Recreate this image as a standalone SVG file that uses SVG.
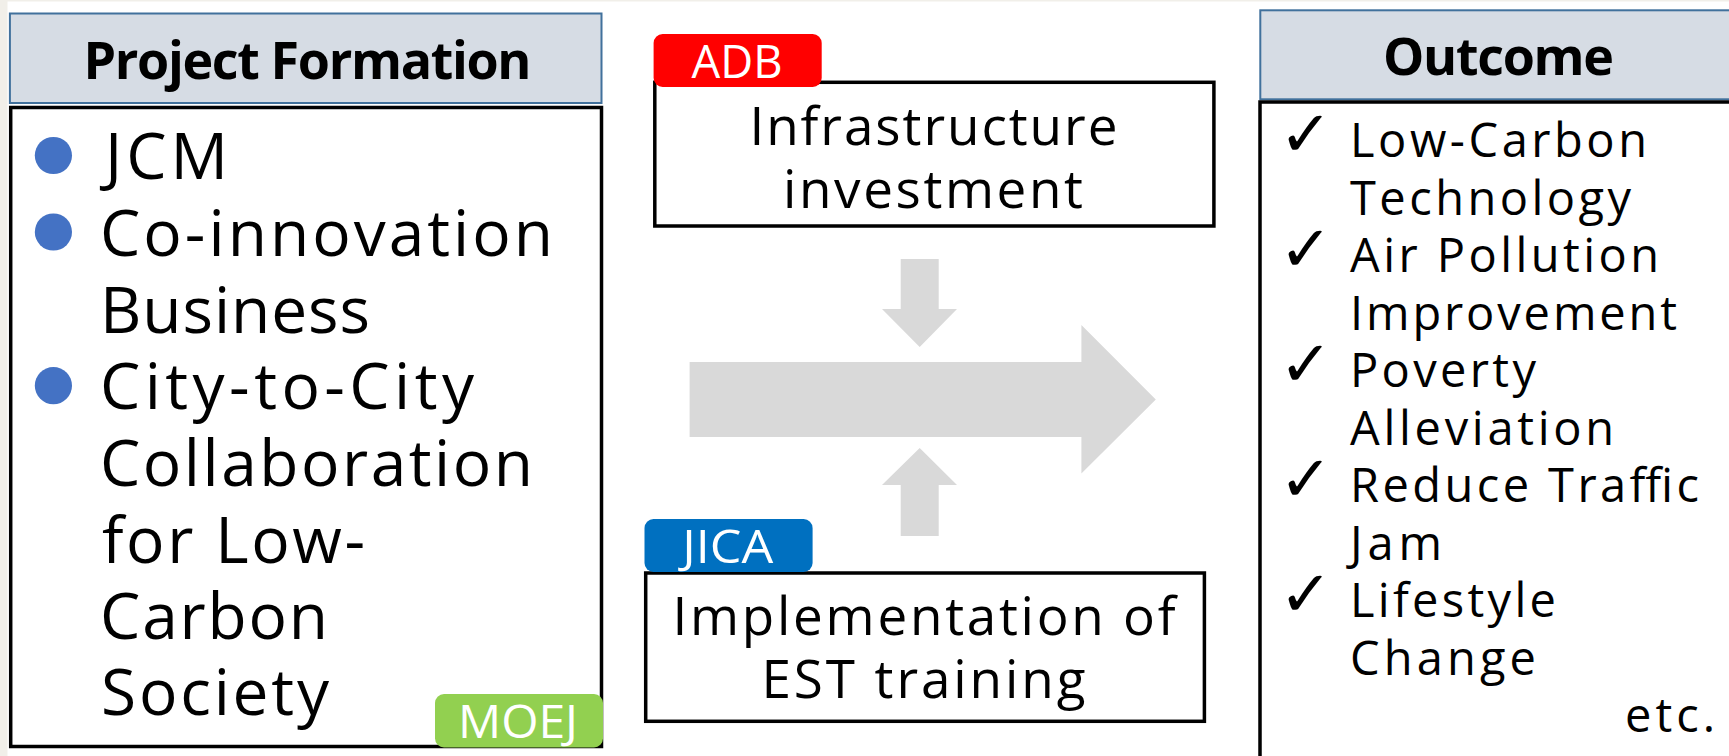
<svg xmlns="http://www.w3.org/2000/svg" width="1729" height="756" viewBox="0 0 1729 756">
<defs>
<style>
.hdr{fill:#d6dce4;stroke:#41719c;stroke-width:2}
.box{fill:#fff;stroke:#000;stroke-width:3.5}
.ht{font-family:"Open Sans","Noto Sans",sans-serif;font-weight:bold;font-size:52px;fill:#000}
.lt{font-family:"Open Sans","Noto Sans",sans-serif;font-size:64px;fill:#000}
.mt{font-family:"Open Sans","Noto Sans",sans-serif;font-size:53px;fill:#000}
.rt{font-family:"Open Sans","Noto Sans",sans-serif;font-size:47px;fill:#000}
.tag{font-family:"Open Sans","Noto Sans",sans-serif;font-size:46px;fill:#fff}
.ck{font-family:"DejaVu Sans",sans-serif;font-size:64px;fill:#000}
.bul{fill:#4472c4}
.arr{fill:#d9d9d9}
</style>
</defs>
<rect x="0" y="0" width="1729" height="756" fill="#f1efe9"/>
<rect x="7.5" y="1.5" width="1721.5" height="754.5" fill="#fff"/>

<g id="connectors">
<polygon class="arr" points="900.7,259 938.7,259 938.7,309 957,309 919.7,347 882,309 900.7,309"/>
<polygon class="arr" points="689.6,362 1081.4,362 1081.4,325 1155.8,399.5 1081.4,473.5 1081.4,437 689.6,437"/>
<polygon class="arr" points="919.7,448 957,485 938.7,485 938.7,536 900.7,536 900.7,485 882,485"/>
</g>

<g id="project-formation">
<rect class="hdr" x="9.9" y="13.5" width="591.6" height="89.5"/>
<text class="ht" x="307.5" y="79" text-anchor="middle" textLength="448" lengthAdjust="spacing">Project Formation</text>
<rect class="box" x="10.7" y="107.5" width="590.8" height="639"/>
<circle class="bul" cx="53.4" cy="155.5" r="18.6"/>
<circle class="bul" cx="53.4" cy="232" r="18.6"/>
<circle class="bul" cx="53.4" cy="385.7" r="18.6"/>
<text class="lt" x="105" y="179" textLength="123" lengthAdjust="spacing">JCM</text>
<text class="lt" x="100" y="256" textLength="453" lengthAdjust="spacing">Co-innovation</text>
<text class="lt" x="100" y="333" textLength="270" lengthAdjust="spacing">Business</text>
<text class="lt" x="100" y="409" textLength="374" lengthAdjust="spacing">City-to-City</text>
<text class="lt" x="100" y="486" textLength="433" lengthAdjust="spacing">Collaboration</text>
<text class="lt" x="102" y="563" textLength="263" lengthAdjust="spacing">for Low-</text>
<text class="lt" x="100" y="639" textLength="228" lengthAdjust="spacing">Carbon</text>
<text class="lt" x="101" y="715" textLength="228" lengthAdjust="spacing">Society</text>
</g>

<g id="moej">
<rect x="435" y="694" width="168" height="53.5" rx="9" fill="#92d050"/>
<text class="tag" x="518" y="738" text-anchor="middle" textLength="120" lengthAdjust="spacingAndGlyphs">MOEJ</text>
</g>

<g id="infrastructure">
<rect class="box" x="654.8" y="82.3" width="559.1" height="143.7"/>
<text class="mt" x="933.4" y="145" text-anchor="middle" textLength="368" lengthAdjust="spacing">Infrastructure</text>
<text class="mt" x="933" y="208" text-anchor="middle" textLength="300" lengthAdjust="spacing">investment</text>
</g>

<g id="adb">
<rect x="653.6" y="34" width="168.1" height="53" rx="9" fill="#ff0000"/>
<text class="tag" x="737" y="78" text-anchor="middle" textLength="91" lengthAdjust="spacingAndGlyphs">ADB</text>
</g>

<g id="implementation">
<rect class="box" x="645.7" y="573" width="558.7" height="148.3"/>
<text class="mt" x="924" y="635" text-anchor="middle" textLength="503" lengthAdjust="spacing">Implementation of</text>
<text class="mt" x="923.5" y="698" text-anchor="middle" textLength="324" lengthAdjust="spacing">EST training</text>
</g>

<g id="jica">
<rect x="644.5" y="519" width="168.1" height="53" rx="9" fill="#0070c0"/>
<text class="tag" x="727.7" y="563" text-anchor="middle" textLength="91" lengthAdjust="spacingAndGlyphs">JICA</text>
</g>

<g id="outcome">
<rect class="hdr" x="1260.3" y="10.3" width="480" height="89"/>
<text class="ht" x="1498.5" y="75" text-anchor="middle" textLength="231" lengthAdjust="spacing">Outcome</text>
<rect class="box" x="1260" y="102" width="500" height="700"/>
<text class="ck" x="1279" y="156">✓</text>
<text class="ck" x="1279" y="271">✓</text>
<text class="ck" x="1279" y="386">✓</text>
<text class="ck" x="1279" y="501">✓</text>
<text class="ck" x="1279" y="616">✓</text>
<text class="rt" x="1350" y="157" textLength="297" lengthAdjust="spacing">Low-Carbon</text>
<text class="rt" x="1350" y="214.5" textLength="281" lengthAdjust="spacing">Technology</text>
<text class="rt" x="1350" y="272" textLength="309" lengthAdjust="spacing">Air Pollution</text>
<text class="rt" x="1350" y="329.5" textLength="327" lengthAdjust="spacing">Improvement</text>
<text class="rt" x="1350" y="387" textLength="186" lengthAdjust="spacing">Poverty</text>
<text class="rt" x="1350" y="444.5" textLength="264" lengthAdjust="spacing">Alleviation</text>
<text class="rt" x="1350" y="502" textLength="349" lengthAdjust="spacing">Reduce Traffic</text>
<text class="rt" x="1350" y="559.5" textLength="92" lengthAdjust="spacing">Jam</text>
<text class="rt" x="1350" y="617" textLength="206" lengthAdjust="spacing">Lifestyle</text>
<text class="rt" x="1350" y="674.5" textLength="186" lengthAdjust="spacing">Change</text>
<text class="rt" x="1625" y="732" textLength="90" lengthAdjust="spacing">etc.</text>
</g>
</svg>
